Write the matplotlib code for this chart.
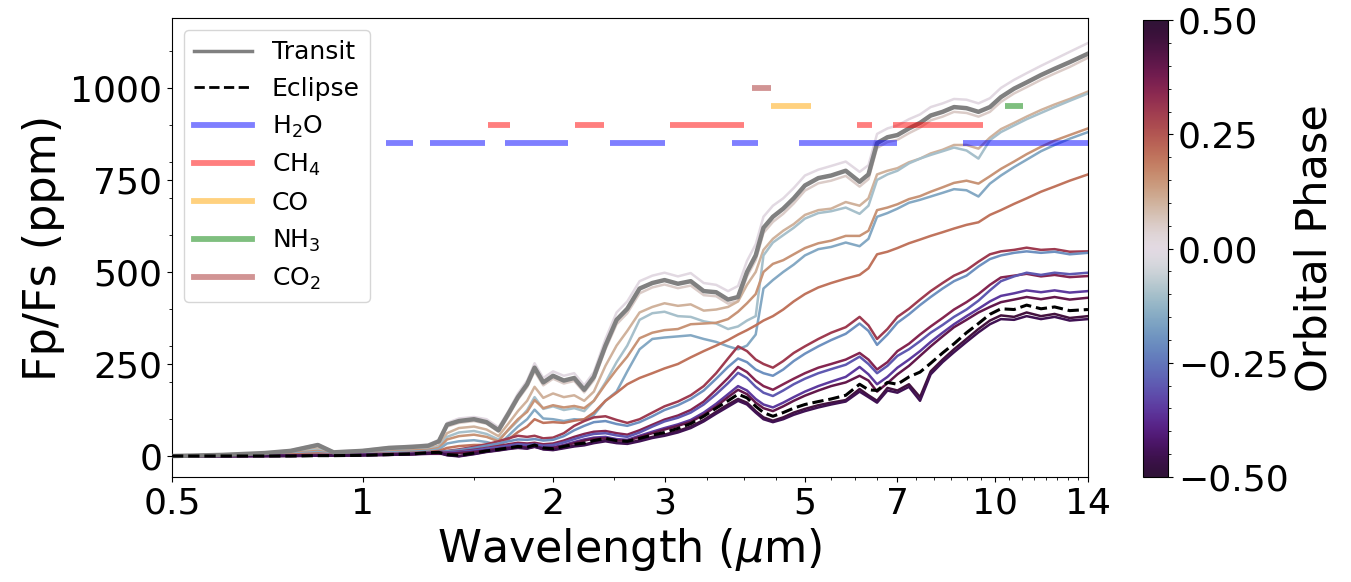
import numpy as np
import matplotlib
matplotlib.use("Agg")
import matplotlib.pyplot as plt
from matplotlib.ticker import MultipleLocator, NullFormatter, FixedLocator, FixedFormatter, FuncFormatter
from matplotlib.lines import Line2D

# ---------------- data ----------------
wavelength = [0.5, 0.6, 0.7, 0.77, 0.85, 0.9, 1.0, 1.1, 1.2, 1.27,
              1.32, 1.36, 1.42, 1.5, 1.57, 1.64, 1.7, 1.76, 1.82, 1.87,
              1.93, 2.0, 2.08, 2.16, 2.24, 2.32, 2.42, 2.52, 2.62, 2.74,
              2.87, 3.0, 3.15, 3.3, 3.46, 3.62, 3.78, 3.92, 4.05, 4.18,
              4.3, 4.45, 4.62, 4.8, 5.0, 5.25, 5.5, 5.8, 6.1, 6.3,
              6.5, 6.75, 7.0, 7.3, 7.6, 7.9, 8.25, 8.6, 9.0, 9.4,
              9.8, 10.2, 10.7, 11.2, 11.8, 12.4, 13.1, 14.0]

transit = [0, 3, 8, 14, 30, 10, 14, 22, 25, 28,
           40, 85, 95, 100, 92, 70, 115, 160, 195, 240,
           200, 218, 205, 212, 180, 215, 300, 370, 400, 455,
           470, 478, 468, 475, 448, 445, 425, 432, 500, 545,
           620, 650, 672, 700, 735, 755, 762, 775, 745, 765,
           850, 866, 872, 890, 905, 925, 935, 948, 945, 935,
           948, 975, 998, 1015, 1035, 1052, 1070, 1093]

eclipse = [0, 0, 0, 0, 1, 1, 2, 4, 6, 9,
           10, 4, 2, 8, 14, 18, 22, 26, 24, 30,
           22, 20, 26, 32, 35, 42, 48, 42, 40, 48,
           57, 64, 75, 88, 108, 130, 150, 168, 158, 135,
           118, 108, 118, 130, 140, 148, 155, 165, 195, 180,
           178, 200, 195, 215, 228, 252, 280, 305, 335, 360,
           385, 400, 398, 410, 400, 405, 395, 398]

phases = [0.0, 0.05, 0.1, -0.1, 0.15, -0.15, 0.2,
          0.3, -0.2, 0.35, -0.3, -0.35, 0.4, 0.45, -0.45]

spec_p000 = [0, 4, 9, 16, 32, 12, 16, 24, 28, 31,
             44, 90, 102, 106, 100, 78, 122, 170, 205, 252,
             212, 230, 218, 225, 192, 228, 318, 390, 420, 475,
             490, 498, 488, 497, 470, 465, 448, 462, 530, 575,
             650, 680, 700, 728, 762, 778, 788, 800, 772, 790,
             875, 890, 898, 915, 928, 948, 958, 970, 968, 958,
             972, 1000, 1022, 1040, 1060, 1078, 1098, 1122]
spec_p005 = [0, 3, 7, 13, 27, 9, 13, 20, 23, 26,
             37, 80, 90, 95, 88, 66, 108, 153, 187, 230,
             192, 210, 197, 204, 173, 206, 290, 358, 388, 442,
             458, 466, 456, 463, 437, 434, 414, 421, 488, 532,
             606, 636, 658, 686, 721, 741, 748, 761, 732, 752,
             837, 853, 859, 877, 892, 912, 922, 935, 932, 922,
             935, 962, 985, 1002, 1022, 1039, 1057, 1082]
spec_p010 = [0, 2, 6, 10, 20, 8, 10, 16, 19, 21,
             28, 62, 76, 80, 72, 54, 88, 122, 150, 188,
             158, 170, 160, 165, 150, 175, 245, 300, 340, 390,
             405, 415, 408, 412, 395, 398, 405, 420, 465, 500,
             560, 590, 612, 630, 655, 668, 672, 690, 680, 700,
             765, 775, 782, 798, 808, 822, 832, 845, 845, 835,
             865, 888, 905, 922, 940, 955, 970, 990]
spec_m010 = [0, 2, 5, 9, 17, 7, 9, 14, 17, 19,
             25, 52, 64, 68, 60, 45, 70, 96, 125, 160,
             128, 135, 125, 130, 122, 150, 200, 255, 300, 370,
             388, 392, 380, 378, 366, 360, 345, 352, 368, 380,
             545, 580, 600, 620, 645, 660, 665, 675, 658, 680,
             750, 765, 775, 795, 808, 818, 828, 838, 830, 808,
             858, 880, 898, 915, 932, 948, 965, 985]
spec_p015 = [0, 1, 4, 8, 14, 6, 8, 12, 15, 17,
             22, 45, 54, 58, 52, 40, 72, 100, 120, 152,
             130, 138, 132, 136, 130, 150, 195, 235, 270, 320,
             335, 342, 345, 358, 360, 362, 372, 392, 415, 440,
             500, 522, 532, 548, 565, 578, 585, 598, 598, 612,
             668, 675, 684, 698, 706, 718, 730, 742, 748, 740,
             760, 780, 800, 820, 840, 857, 872, 890]
spec_m015 = [0, 1, 3, 6, 11, 5, 7, 10, 12, 14,
             18, 34, 40, 43, 38, 30, 55, 80, 100, 126,
             102, 100, 95, 100, 98, 112, 150, 175, 230, 290,
             318, 322, 325, 328, 318, 310, 298, 290, 300, 330,
             455, 478, 500, 520, 545, 562, 568, 580, 570, 590,
             650, 660, 672, 688, 696, 705, 715, 725, 722, 705,
             740, 762, 785, 805, 828, 845, 862, 880]
spec_p020 = [0, 1, 2, 4, 7, 4, 5, 7, 9, 11,
             14, 22, 27, 30, 30, 28, 45, 65, 80, 100,
             90, 92, 90, 96, 100, 118, 150, 172, 195, 212,
             225, 238, 250, 268, 285, 300, 315, 330, 342, 355,
             368, 380, 398, 420, 440, 458, 470, 482, 492, 510,
             548, 555, 565, 578, 588, 598, 608, 618, 628, 635,
             655, 668, 685, 700, 718, 732, 748, 765]
spec_p030 = [0, 0, 1, 2, 3, 3, 4, 6, 8, 10,
             12, 14, 18, 25, 32, 40, 48, 55, 52, 55,
             48, 50, 62, 82, 95, 105, 108, 98, 90, 100,
             118, 135, 148, 165, 190, 225, 265, 298, 285, 262,
             250, 240, 258, 280, 298, 318, 335, 350, 378, 355,
             318, 345, 378, 400, 425, 448, 470, 490, 505, 528,
             548, 556, 560, 566, 560, 562, 555, 556]
spec_m020 = [0, 0, 1, 2, 3, 3, 4, 6, 8, 9,
             11, 13, 16, 22, 28, 34, 40, 45, 44, 46,
             42, 44, 54, 70, 82, 92, 95, 87, 82, 92,
             108, 125, 138, 155, 178, 210, 242, 265, 255, 235,
             225, 218, 235, 258, 278, 298, 315, 332, 360, 340,
             302, 330, 362, 385, 410, 432, 455, 475, 490, 515,
             535, 545, 552, 556, 552, 555, 548, 552]
spec_p035 = [0, 0, 1, 1, 2, 2, 3, 5, 7, 8,
             9, 10, 12, 17, 22, 27, 32, 36, 34, 36,
             32, 34, 42, 52, 60, 66, 68, 62, 58, 70,
             85, 99, 110, 125, 148, 180, 212, 242, 228, 205,
             190, 180, 195, 210, 225, 240, 250, 262, 280, 262,
             235, 255, 285, 305, 330, 352, 375, 398, 418, 440,
             465, 485, 490, 495, 488, 492, 486, 489]
spec_m030 = [0, 0, 1, 1, 2, 2, 3, 4, 6, 7,
             8, 9, 11, 15, 20, 24, 28, 32, 30, 32,
             28, 30, 37, 46, 54, 60, 62, 56, 52, 64,
             80, 94, 104, 118, 140, 168, 198, 226, 212, 188,
             172, 163, 178, 195, 210, 225, 236, 248, 270, 250,
             225, 245, 272, 290, 312, 335, 356, 378, 398, 422,
             450, 475, 488, 498, 492, 498, 494, 498]
spec_m035 = [0, 0, 0, 1, 1, 2, 3, 4, 5, 6,
             7, 7, 9, 12, 16, 20, 24, 27, 25, 27,
             23, 24, 30, 38, 45, 50, 52, 46, 44, 55,
             66, 76, 86, 98, 118, 142, 168, 190, 178, 155,
             140, 132, 145, 160, 175, 190, 202, 215, 242, 222,
             195, 215, 240, 262, 285, 310, 335, 358, 380, 400,
             420, 435, 442, 450, 445, 450, 444, 448]
spec_p040 = [0, 0, 0, 1, 1, 2, 3, 4, 5, 6,
             6, 6, 8, 11, 15, 19, 22, 25, 23, 25,
             21, 22, 28, 35, 42, 47, 48, 43, 41, 52,
             62, 72, 82, 93, 112, 135, 160, 180, 168, 145,
             130, 122, 135, 150, 164, 178, 190, 200, 218, 205,
             175, 198, 222, 245, 272, 298, 325, 350, 370, 390,
             405, 418, 425, 432, 426, 432, 425, 430]
spec_p045 = [0, 0, 0, 0, 1, 1, 2, 3, 5, 8,
             9, 3, 0, 6, 12, 16, 20, 24, 21, 27,
             19, 17, 23, 28, 31, 38, 43, 37, 35, 43,
             52, 58, 68, 80, 98, 120, 140, 155, 145, 122,
             105, 96, 105, 118, 128, 138, 145, 152, 182, 165,
             150, 185, 178, 195, 160, 230, 262, 290, 318, 345,
             368, 382, 378, 390, 380, 386, 375, 380]
spec_m045 = [0, 0, 0, 0, 1, 1, 2, 3, 5, 7,
             8, 2, -1, 5, 11, 15, 19, 22, 20, 25,
             18, 16, 21, 26, 29, 35, 40, 35, 33, 40,
             49, 55, 64, 76, 94, 115, 134, 150, 140, 118,
             100, 92, 100, 112, 122, 132, 140, 148, 175, 160,
             145, 178, 172, 188, 150, 222, 255, 282, 310, 336,
             358, 372, 370, 380, 372, 378, 368, 372]

spectra = [spec_p000, spec_p005, spec_p010, spec_m010, spec_p015, spec_m015,
           spec_p020, spec_p030, spec_m020, spec_p035, spec_m030, spec_m035,
           spec_p040, spec_p045, spec_m045]

# molecular band ranges (micron) and their levels (ppm)
mol_names = ['H$_2$O', 'CH$_4$', 'CO', 'NH$_3$', 'CO$_2$']
mol_colors = ['blue', 'red', 'orange', 'green', 'brown']
mol_levels = [850, 900, 950, 950, 1000]
h2o_bands = [(1.09, 1.2), (1.28, 1.56), (1.68, 2.11), (2.46, 3.0), (3.84, 4.22), (4.9, 7.0), (8.9, 14.5)]
ch4_bands = [(1.58, 1.71), (2.17, 2.41), (3.06, 4.01), (6.05, 6.38), (6.88, 9.55)]
co_bands = [(4.42, 5.11)]
nh3_bands = [(10.35, 11.05)]
co2_bands = [(4.12, 4.42)]
mol_bands = [h2o_bands, ch4_bands, co_bands, nh3_bands, co2_bands]

xtick_vals = [0.5, 1, 2, 3, 5, 7, 10, 14]
xtick_labels = ['0.5', '1', '2', '3', '5', '7', '10', '14']
cbar_ticks = [-0.5, -0.25, 0.0, 0.25, 0.5]

# ---------------- plot ----------------
fig = plt.figure(figsize=(13.51, 5.82), dpi=100)
ax = fig.add_axes([0.1273, 0.1804, 0.678, 0.7887])
cax = fig.add_axes([0.846, 0.1804, 0.0185, 0.785])

cmap = plt.get_cmap('twilight_shifted')
norm = matplotlib.colors.Normalize(vmin=-0.5, vmax=0.5)

for ph, spec in zip(phases, spectra):
    ax.plot(wavelength, spec, color=cmap(norm(ph)), lw=1.8, zorder=2)

ax.plot(wavelength, transit, color='gray', lw=3.2, zorder=3)
ax.plot(wavelength, eclipse, color='black', lw=2.2, ls='--', zorder=4)

for bands, col, lev in zip(mol_bands, mol_colors, mol_levels):
    for (a, b) in bands:
        ax.plot([a, b], [lev, lev], color=col, alpha=0.5, lw=4.2,
                solid_capstyle='butt', zorder=5)

ax.set_xscale('log')
ax.set_xlim(0.5, 14)
ax.set_ylim(-57, 1190)
ax.xaxis.set_major_locator(FixedLocator(xtick_vals))
ax.xaxis.set_major_formatter(FixedFormatter(xtick_labels))
ax.xaxis.set_minor_locator(MultipleLocator(0.5))
ax.xaxis.set_minor_formatter(NullFormatter())
ax.yaxis.set_major_locator(MultipleLocator(250))
ax.yaxis.set_minor_locator(MultipleLocator(100))
ax.tick_params(axis='both', which='major', labelsize=26)

ax.set_xlabel(r'Wavelength ($\mu$m)', fontsize=32)
ax.set_ylabel('Fp/Fs (ppm)', fontsize=32)

handles = [Line2D([], [], color='gray', lw=2.5, label='Transit'),
           Line2D([], [], color='black', lw=2, ls='--', label='Eclipse')]
for name, col in zip(mol_names, mol_colors):
    handles.append(Line2D([], [], color=col, alpha=0.5, lw=4.2, label=name))
ax.legend(handles=handles, loc='upper left', fontsize=18, handlelength=2.3,
          borderaxespad=0.5)

sm = matplotlib.cm.ScalarMappable(norm=norm, cmap=cmap)
cb = fig.colorbar(sm, cax=cax, ticks=cbar_ticks,
                  format=FuncFormatter(lambda v, p: ('%.2f' % v).replace('-', '\u2212')))
cb.minorticks_on()
cb.ax.tick_params(labelsize=26)
cb.set_label('Orbital Phase', fontsize=31)

fig.savefig('out.png', dpi=100)
